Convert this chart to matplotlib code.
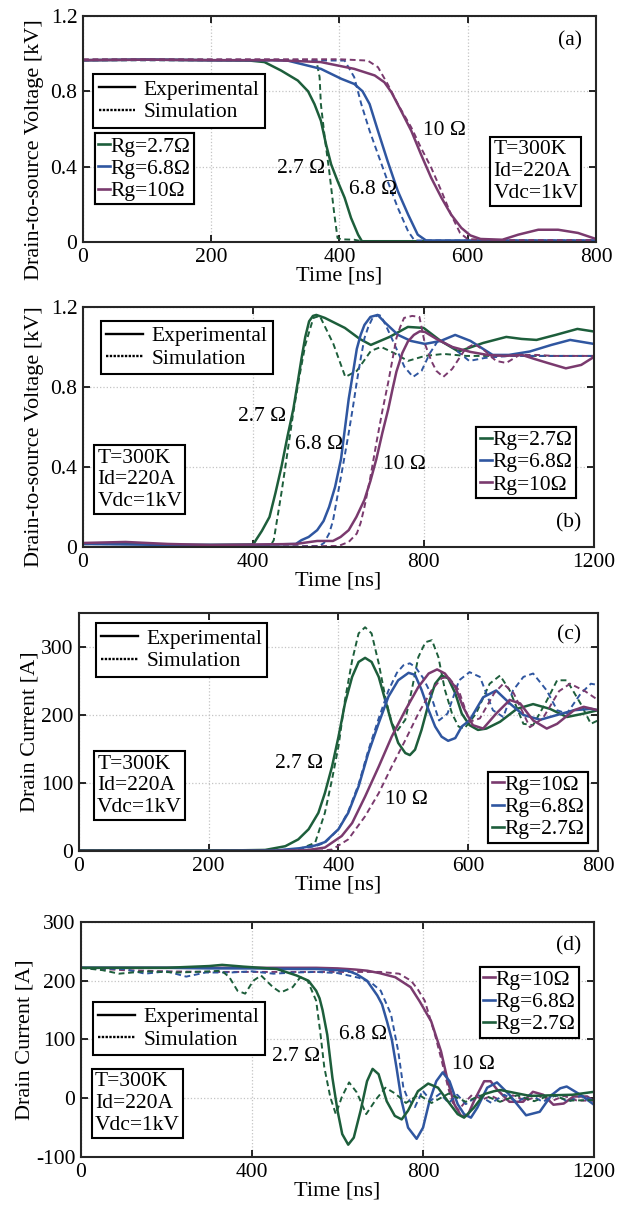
import matplotlib

matplotlib.use("Agg")
import matplotlib.pyplot as plt
from matplotlib.lines import Line2D
from matplotlib.ticker import FormatStrFormatter

plt.rcParams["font.family"] = ["Liberation Serif", "DejaVu Serif"]
plt.rcParams["font.size"] = 15

GREEN = "#1d5e3b"
BLUE = "#2f56a0"
PURPLE = "#7a3a6e"

# ---- (a) turn-off drain-source voltage, kV ----
a_t_exp27 = [0, 100, 200, 260, 283, 309, 335, 351, 361, 371, 379, 387, 397, 408, 418, 429, 435, 500, 800]
a_v_exp27 = [0.965, 0.968, 0.965, 0.963, 0.955, 0.91, 0.857, 0.80, 0.732, 0.644, 0.519, 0.412, 0.324, 0.235, 0.128, 0.039, 0.004, 0.004, 0.004]
a_t_sim27 = [0, 100, 200, 300, 364, 369, 371, 377, 384, 392, 397, 403, 423, 434, 500, 800]
a_v_sim27 = [0.965, 0.965, 0.965, 0.965, 0.963, 0.875, 0.732, 0.555, 0.377, 0.146, 0.021, 0.014, 0.012, 0.004, 0.004, 0.004]
a_t_exp68 = [0, 100, 200, 300, 319, 371, 403, 423, 436, 447, 460, 475, 491, 507, 522, 535, 560, 800]
a_v_exp68 = [0.965, 0.968, 0.965, 0.965, 0.963, 0.919, 0.866, 0.839, 0.80, 0.732, 0.59, 0.43, 0.27, 0.146, 0.039, 0.008, 0.008, 0.008]
a_t_sim68 = [0, 100, 200, 300, 408, 423, 434, 447, 460, 475, 491, 507, 517, 540, 800]
a_v_sim68 = [0.965, 0.965, 0.965, 0.965, 0.963, 0.875, 0.732, 0.59, 0.466, 0.324, 0.181, 0.057, 0.008, 0.008, 0.008]
a_t_exp10 = [0, 100, 200, 300, 371, 423, 455, 470, 481, 496, 512, 527, 543, 559, 574, 590, 604, 620, 654, 679, 710, 741, 772, 800]
a_v_exp10 = [0.965, 0.968, 0.965, 0.965, 0.955, 0.919, 0.884, 0.848, 0.795, 0.697, 0.59, 0.466, 0.341, 0.235, 0.146, 0.075, 0.035, 0.016, 0.012, 0.039, 0.065, 0.065, 0.048, 0.016]
a_t_sim10 = [0, 100, 200, 300, 400, 444, 460, 475, 491, 512, 527, 543, 559, 574, 588, 600, 650, 800]
a_v_sim10 = [0.97, 0.97, 0.97, 0.97, 0.97, 0.963, 0.928, 0.839, 0.732, 0.608, 0.501, 0.395, 0.27, 0.146, 0.048, 0.015, 0.01, 0.01]

# ---- (b) turn-on drain-source voltage, kV ----
b_t_exp27 = [0, 100, 200, 300, 400, 406, 420, 438, 452, 466, 480, 494, 504, 513, 522, 531, 540, 548, 568, 615, 650, 676, 720, 763, 800, 840, 882, 940, 994, 1030, 1065, 1110, 1161, 1200]
b_v_exp27 = [0.015, 0.02, 0.01, 0.01, 0.012, 0.034, 0.08, 0.15, 0.27, 0.40, 0.55, 0.69, 0.82, 0.94, 1.05, 1.128, 1.155, 1.16, 1.145, 1.095, 1.04, 1.01, 1.05, 1.10, 1.095, 1.03, 0.977, 1.02, 1.05, 1.04, 1.035, 1.06, 1.09, 1.077]
b_t_sim27 = [0, 200, 400, 440, 448, 466, 480, 494, 508, 522, 541, 556, 588, 616, 643, 676, 700, 730, 763, 803, 847, 900, 1200]
b_v_sim27 = [0, 0, 0, 0.005, 0.034, 0.27, 0.47, 0.674, 0.85, 1.01, 1.145, 1.155, 1.015, 0.85, 0.88, 0.98, 1.0, 0.97, 0.93, 0.955, 0.965, 0.955, 0.955]
b_t_exp68 = [0, 200, 400, 500, 513, 530, 550, 565, 578, 592, 606, 615, 624, 634, 643, 652, 661, 675, 692, 710, 740, 770, 803, 840, 874, 910, 962, 1000, 1049, 1100, 1144, 1200]
b_v_exp68 = [0.015, 0.01, 0.01, 0.015, 0.034, 0.05, 0.084, 0.13, 0.2, 0.3, 0.44, 0.59, 0.74, 0.87, 0.99, 1.06, 1.11, 1.15, 1.16, 1.12, 1.06, 1.03, 1.015, 1.03, 1.06, 1.03, 0.96, 0.96, 0.977, 1.01, 1.035, 1.015]
b_t_sim68 = [0, 200, 400, 555, 566, 578, 587, 596, 610, 624, 634, 643, 652, 661, 670, 680, 694, 700, 715, 731, 755, 775, 795, 815, 835, 867, 907, 944, 1000, 1200]
b_v_sim68 = [0, 0, 0, 0.005, 0.02, 0.067, 0.13, 0.236, 0.4, 0.57, 0.7, 0.825, 0.94, 1.044, 1.1, 1.145, 1.16, 1.155, 1.09, 1.015, 0.9, 0.85, 0.88, 0.97, 1.035, 1.0, 0.93, 0.945, 0.955, 0.955]
b_t_exp10 = [0, 100, 200, 300, 400, 500, 550, 587, 605, 624, 642, 661, 675, 689, 703, 717, 727, 736, 750, 763, 777, 791, 803, 830, 867, 910, 950, 990, 1031, 1060, 1091, 1134, 1170, 1200]
b_v_exp10 = [0.02, 0.025, 0.015, 0.01, 0.012, 0.015, 0.03, 0.03, 0.05, 0.084, 0.15, 0.236, 0.33, 0.44, 0.57, 0.69, 0.79, 0.876, 0.97, 1.027, 1.06, 1.078, 1.075, 1.04, 1.0, 0.975, 0.96, 0.955, 0.96, 0.94, 0.92, 0.893, 0.91, 0.95]
b_t_sim10 = [0, 200, 400, 600, 624, 643, 652, 661, 675, 689, 703, 717, 727, 736, 745, 754, 773, 790, 803, 818, 830, 846, 867, 898, 919, 944, 970, 994, 1025, 1065, 1106, 1200]
b_v_sim10 = [0, 0, 0, 0.005, 0.025, 0.067, 0.12, 0.2, 0.35, 0.52, 0.68, 0.825, 0.94, 1.044, 1.1, 1.145, 1.155, 1.15, 1.015, 0.93, 0.88, 0.85, 0.89, 0.99, 1.015, 0.98, 0.93, 0.92, 0.96, 0.96, 0.955, 0.955]

# ---- (c) turn-on drain current, A ----
c_t_exp27 = [0, 100, 200, 250, 287, 318, 338, 354, 369, 379, 390, 400, 410, 421, 431, 441, 451, 462, 472, 482, 492, 503, 510, 518, 528, 539, 549, 559, 569, 580, 590, 602, 615, 628, 649, 675, 700, 726, 752, 778, 800]
c_i_exp27 = [1, 1, 1, 1, 1.5, 7, 17, 32, 56, 85, 124, 168, 217, 256, 278, 284, 278, 256, 222, 188, 159, 144, 141, 149, 178, 217, 246, 258, 254, 232, 202, 185, 178, 180, 190, 209, 216, 209, 197, 202, 207]
c_t_sim27 = [0, 100, 200, 300, 338, 364, 379, 390, 400, 410, 421, 431, 441, 451, 462, 472, 482, 490, 503, 513, 523, 534, 544, 554, 564, 575, 585, 594, 612, 633, 649, 664, 685, 700, 721, 737, 752, 773, 789, 800]
c_i_sim27 = [1, 1, 1, 1, 2, 12, 56, 105, 154, 222, 280, 320, 329, 320, 276, 227, 188, 176, 193, 237, 285, 307, 310, 285, 237, 202, 183, 180, 202, 246, 258, 236, 187, 185, 221, 251, 251, 217, 187, 192]
c_t_exp68 = [0, 100, 200, 300, 340, 364, 379, 400, 415, 431, 446, 462, 477, 492, 508, 518, 528, 539, 549, 559, 569, 580, 590, 602, 623, 643, 664, 685, 711, 737, 763, 789, 800]
c_i_exp68 = [0, 0, 0, 0.5, 4, 8, 13, 32, 56, 95, 144, 188, 227, 251, 262, 259, 237, 207, 183, 168, 162, 166, 183, 192, 226, 236, 217, 200, 193, 200, 207, 209, 207]
c_t_sim68 = [0, 100, 200, 300, 340, 364, 379, 400, 415, 431, 446, 462, 477, 490, 500, 510, 519, 530, 540, 555, 568, 586, 602, 618, 638, 654, 669, 685, 700, 721, 737, 752, 773, 789, 800]
c_i_sim68 = [0, 0, 0, 0.5, 3, 7, 12, 32, 58, 98, 148, 195, 236, 262, 273, 276, 270, 255, 236, 192, 202, 251, 263, 256, 207, 197, 236, 256, 261, 236, 207, 202, 231, 246, 244]
c_t_exp10 = [0, 100, 200, 300, 350, 379, 405, 421, 441, 462, 482, 503, 523, 539, 552, 564, 580, 592, 607, 623, 643, 664, 680, 700, 721, 737, 763, 778, 800]
c_i_exp10 = [0, 0, 0, 0, 1, 5, 22, 41, 80, 124, 168, 207, 241, 261, 267, 261, 241, 212, 185, 180, 202, 222, 217, 192, 180, 187, 207, 212, 207]
c_t_sim10 = [0, 100, 200, 300, 370, 390, 415, 441, 462, 482, 503, 523, 544, 559, 569, 585, 602, 618, 640, 654, 670, 695, 715, 740, 757, 780, 800]
c_i_sim10 = [0, 0, 0, 0, 0.5, 2, 17, 51, 85, 124, 163, 202, 237, 254, 256, 237, 190, 195, 232, 246, 232, 182, 195, 235, 246, 235, 222]

# ---- (d) turn-off drain current, A ----
d_t_exp10 = [0, 100, 200, 300, 400, 500, 550, 600, 642, 670, 698, 735, 771, 792, 819, 842, 858, 873, 889, 904, 919, 943, 958, 973, 1002, 1034, 1057, 1081, 1105, 1129, 1152, 1184, 1200]
d_i_exp10 = [222, 222, 222, 222, 222, 222, 222, 221, 219, 217, 213, 206, 189, 165, 131, 80, 29, -10, -30, -30, -5, 29, 29, 15, -6, -6, 11, 6, -11, -9, 3, 3, -5]
d_t_sim10 = [0, 100, 200, 300, 400, 500, 600, 700, 744, 772, 788, 804, 828, 844, 859, 871, 883, 899, 915, 939, 960, 985, 1010, 1040, 1070, 1100, 1130, 1160, 1200]
d_i_sim10 = [222, 218, 216, 215, 215, 215, 215, 215, 212, 200, 185, 166, 108, 63, 17, -11, -20, -6, 6, -2, 4, -5, 5, -4, 4, -5, 4, -4, -4]
d_t_exp68 = [0, 100, 200, 300, 400, 500, 550, 624, 645, 669, 693, 704, 716, 727, 738, 750, 765, 785, 800, 815, 831, 846, 862, 881, 896, 912, 927, 950, 973, 1002, 1041, 1073, 1100, 1121, 1136, 1168, 1200]
d_i_exp68 = [222, 222, 222, 221, 221, 220, 220, 217, 211, 200, 175, 160, 130, 100, 52, -5, -50, -69, -50, -5, 29, 44, 29, -10, -27, -33, -16, 18, 27, 6, -29, -23, 5, 17, 20, 6, -11]
d_t_sim68 = [0, 100, 150, 200, 246, 292, 350, 400, 450, 500, 550, 600, 650, 680, 701, 725, 742, 754, 764, 781, 799, 818, 840, 860, 880, 900, 930, 960, 990, 1020, 1050, 1080, 1110, 1140, 1170, 1200]
d_i_sim68 = [222, 220, 212, 216, 207, 214, 214, 216, 212, 214, 215, 213, 205, 196, 183, 143, 80, 18, 0, -15, 13, -4, 8, -8, 6, -10, 5, -8, 6, -6, 6, -6, 5, -6, 5, -4]
d_t_exp27 = [0, 100, 200, 300, 330, 380, 420, 458, 504, 532, 550, 558, 565, 576, 588, 600, 611, 625, 638, 654, 669, 682, 696, 715, 734, 750, 765, 788, 812, 835, 858, 881, 896, 919, 943, 966, 981, 1050, 1100, 1150, 1200]
d_i_exp27 = [222, 222, 222, 225, 227, 224, 222, 220, 209, 200, 183, 170, 150, 108, 35, -21, -61, -79, -67, -21, 29, 50, 41, -5, -30, -36, -21, 12, 25, 18, -5, -27, -33, -16, 7, 12, 14, 4, 5, 6, 11]
d_t_sim27 = [0, 50, 89, 150, 228, 300, 329, 347, 366, 384, 403, 421, 449, 467, 495, 513, 530, 550, 560, 569, 583, 596, 610, 627, 645, 667, 690, 712, 735, 760, 790, 820, 860, 900, 940, 980, 1020, 1060, 1100, 1140, 1200]
d_i_sim27 = [222, 218, 212, 216, 214, 216, 217, 206, 183, 178, 200, 209, 189, 180, 189, 206, 200, 166, 110, 53, 2, -27, 2, 27, 10, -27, -2, 18, 8, -8, 6, -8, 8, -6, 6, -6, 5, -5, 6, -4, -3]

fig = plt.figure(figsize=(6.17, 12.16), dpi=100)
ax_a = fig.add_axes([0.1345, 0.801, 0.8314, 0.1859])
ax_b = fig.add_axes([0.1345, 0.5502, 0.8282, 0.1974])
ax_c = fig.add_axes([0.128, 0.3002, 0.8412, 0.1957])
ax_d = fig.add_axes([0.1313, 0.0485, 0.8315, 0.1933])


def draw_pair(ax, t_exp, y_exp, t_sim, y_sim, color):
    ax.plot(t_sim, y_sim, color=color, lw=1.4, dashes=(3.0, 1.9))
    ax.plot(t_exp, y_exp, color=color, lw=1.8)


def style_axis(ax, xlim, ylim, xticks, yticks, ylabel):
    ax.set_xlim(*xlim)
    ax.set_ylim(*ylim)
    ax.set_xticks(xticks)
    ax.set_yticks(yticks)
    ax.yaxis.set_major_formatter(FormatStrFormatter("%g"))
    ax.grid(True, linestyle=":", color="#c4c4c4", lw=0.9)
    ax.tick_params(direction="in", top=True, right=True, length=5, width=1.2,
                   labelsize=15.5, pad=4)
    for s in ax.spines.values():
        s.set_linewidth(1.5)
        s.set_color("#262626")
    ax.set_xlabel("Time [ns]", fontsize=16, labelpad=0)
    ax.set_ylabel(ylabel, fontsize=16, labelpad=1)


def style_legend(ax, loc_xy):
    handles = [Line2D([], [], color="black", lw=1.7),
               Line2D([], [], color="black", lw=1.7, ls=(0, (1, 0.6)))]
    leg = ax.legend(handles, ["Experimental", "Simulation"], loc="upper left",
                    bbox_to_anchor=loc_xy, fancybox=False, framealpha=1,
                    edgecolor="black", handlelength=1.7, handletextpad=0.4,
                    borderpad=0.25, labelspacing=0.12, borderaxespad=0,
                    fontsize=15.5)
    leg.get_frame().set_linewidth(1.5)
    ax.add_artist(leg)


def color_legend(ax, loc_xy, order):
    names = {"27": ("Rg=2.7Ω", GREEN), "68": ("Rg=6.8Ω", BLUE), "10": ("Rg=10Ω", PURPLE)}
    handles = [Line2D([], [], color=names[k][1], lw=1.9) for k in order]
    labels = [names[k][0] for k in order]
    leg = ax.legend(handles, labels, loc="upper left", bbox_to_anchor=loc_xy,
                    fancybox=False, framealpha=1, edgecolor="black",
                    handlelength=0.55, handletextpad=0.05, borderpad=0.15,
                    labelspacing=0.1, borderaxespad=0, fontsize=15.5)
    leg.get_frame().set_linewidth(1.5)
    ax.add_artist(leg)


def param_box(ax, x, y):
    ax.text(x, y, "T=300K\nId=220A\nVdc=1kV", transform=ax.transAxes,
            ha="left", va="top", fontsize=15.5, linespacing=1.2,
            bbox=dict(boxstyle="square,pad=0.15", fc="white", ec="black", lw=1.5))


# (a)
draw_pair(ax_a, a_t_exp27, a_v_exp27, a_t_sim27, a_v_sim27, GREEN)
draw_pair(ax_a, a_t_exp68, a_v_exp68, a_t_sim68, a_v_sim68, BLUE)
draw_pair(ax_a, a_t_exp10, a_v_exp10, a_t_sim10, a_v_sim10, PURPLE)
style_axis(ax_a, (0, 800), (0, 1.2), [0, 200, 400, 600, 800], [0, 0.4, 0.8, 1.2],
           "Drain-to-source Voltage [kV]")
ax_a.yaxis.set_label_coords(-0.076, 0.41)
style_legend(ax_a, (0.02, 0.742))
color_legend(ax_a, (0.023, 0.48), ["27", "68", "10"])
param_box(ax_a, 0.8, 0.45)
ax_a.text(340, 0.39, "2.7 Ω", ha="center", va="center", fontsize=15.5)
ax_a.text(452, 0.28, "6.8 Ω", ha="center", va="center", fontsize=15.5)
ax_a.text(564, 0.59, "10 Ω", ha="center", va="center", fontsize=15.5)
ax_a.text(760, 1.07, "(a)", ha="center", va="center", fontsize=15.5)

# (b)
draw_pair(ax_b, b_t_exp27, b_v_exp27, b_t_sim27, b_v_sim27, GREEN)
draw_pair(ax_b, b_t_exp68, b_v_exp68, b_t_sim68, b_v_sim68, BLUE)
draw_pair(ax_b, b_t_exp10, b_v_exp10, b_t_sim10, b_v_sim10, PURPLE)
style_axis(ax_b, (0, 1200), (0, 1.2), [0, 400, 800, 1200], [0, 0.4, 0.8, 1.2],
           "Drain-to-source Voltage [kV]")
ax_b.yaxis.set_label_coords(-0.076, 0.46)
style_legend(ax_b, (0.035, 0.943))
color_legend(ax_b, (0.77, 0.5), ["27", "68", "10"])
param_box(ax_b, 0.028, 0.41)
ax_b.text(420, 0.653, "2.7 Ω", ha="center", va="center", fontsize=15.5)
ax_b.text(554, 0.514, "6.8 Ω", ha="center", va="center", fontsize=15.5)
ax_b.text(754, 0.41, "10 Ω", ha="center", va="center", fontsize=15.5)
ax_b.text(1140, 0.12, "(b)", ha="center", va="center", fontsize=15.5)

# (c)
draw_pair(ax_c, c_t_exp27, c_i_exp27, c_t_sim27, c_i_sim27, GREEN)
draw_pair(ax_c, c_t_exp68, c_i_exp68, c_t_sim68, c_i_sim68, BLUE)
draw_pair(ax_c, c_t_exp10, c_i_exp10, c_t_sim10, c_i_sim10, PURPLE)
style_axis(ax_c, (0, 800), (0, 350), [0, 200, 400, 600, 800], [0, 100, 200, 300],
           "Drain Current [A]")
style_legend(ax_c, (0.032, 0.957))
color_legend(ax_c, (0.789, 0.333), ["10", "68", "27"])
param_box(ax_c, 0.035, 0.405)
ax_c.text(339, 128, "2.7 Ω", ha="center", va="center", fontsize=15.5)
ax_c.text(505, 75, "10 Ω", ha="center", va="center", fontsize=15.5)
ax_c.text(756, 318, "(c)", ha="center", va="center", fontsize=15.5)

# (d)
draw_pair(ax_d, d_t_exp10, d_i_exp10, d_t_sim10, d_i_sim10, PURPLE)
draw_pair(ax_d, d_t_exp68, d_i_exp68, d_t_sim68, d_i_sim68, BLUE)
draw_pair(ax_d, d_t_exp27, d_i_exp27, d_t_sim27, d_i_sim27, GREEN)
style_axis(ax_d, (0, 1200), (-100, 300), [0, 400, 800, 1200], [-100, 0, 100, 200, 300],
           "Drain Current [A]")
style_legend(ax_d, (0.023, 0.66))
color_legend(ax_d, (0.777, 0.81), ["10", "68", "27"])
param_box(ax_d, 0.027, 0.362)
ax_d.text(659, 108, "6.8 Ω", ha="center", va="center", fontsize=15.5)
ax_d.text(502, 71, "2.7 Ω", ha="center", va="center", fontsize=15.5)
ax_d.text(917, 57, "10 Ω", ha="center", va="center", fontsize=15.5)
ax_d.text(1140, 260, "(d)", ha="center", va="center", fontsize=15.5)

fig.savefig("out.png", dpi=100)
